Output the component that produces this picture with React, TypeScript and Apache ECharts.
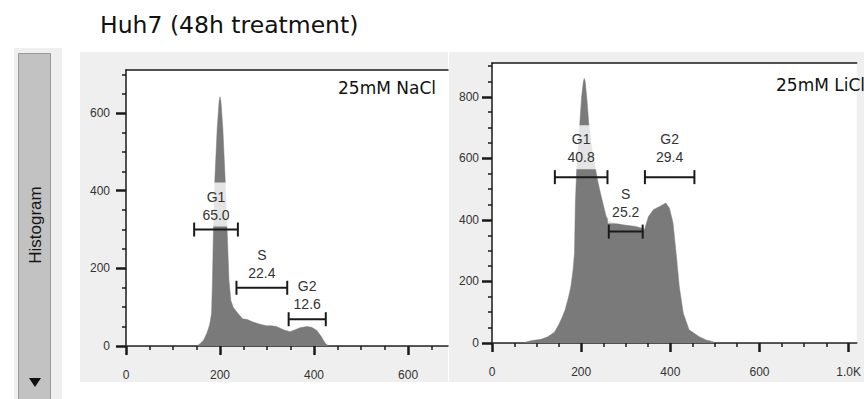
import React, { useEffect, useRef } from 'react';
import * as echarts from 'echarts';

// ---- Data ----
const chartTitle = 'Huh7 (48h treatment)';
const sidebarLabel = 'Histogram';

const naclLabel = '25mM NaCl';
const naclX = [0, 150, 157, 165, 172, 178, 182, 184, 186, 189, 194, 198, 200, 202, 206, 211, 215, 219, 223, 228, 234, 241, 248, 258, 270, 285, 299, 310, 320, 335, 349, 360, 370, 385, 395, 406, 415, 420, 425, 432, 685];
const naclCount = [0, 0, 5, 15, 33, 55, 84, 170, 300, 427, 560, 630, 642, 630, 560, 427, 300, 170, 117, 100, 90, 80, 70, 68, 62, 56, 52, 52, 50, 42, 37, 42, 47, 50, 48, 40, 25, 15, 5, 0, 0];
const naclGateNames = ['G1', 'S', 'G2'];
const naclGatePct = ['65.0', '22.4', '12.6'];
const naclGateStart = [145, 235, 346];
const naclGateEnd = [238, 343, 425];
const naclGateLevel = [300, 150, 69];
const naclXTicks = [0, 200, 400, 600];
const naclXTickLabels = ['0', '200', '400', '600'];
const naclYTicks = [0, 200, 400, 600];

const liclLabel = '25mM LiCl';
const liclX = [0, 70, 78, 90, 110, 125, 140, 150, 158, 164, 171, 177, 182, 185, 187, 190, 194, 197, 201, 205, 207, 209, 213, 217, 225, 232, 238, 245, 256, 263, 275, 293, 310, 322, 337, 342, 351, 362, 376, 390, 398, 406, 413, 420, 429, 442, 464, 480, 494, 502, 820];
const liclCount = [0, 0, 4, 8, 12, 20, 35, 60, 85, 108, 145, 184, 240, 292, 455, 566, 650, 714, 800, 850, 860, 850, 790, 714, 620, 566, 520, 476, 411, 395, 390, 384, 381, 379, 373, 368, 411, 433, 444, 455, 438, 390, 292, 184, 97, 43, 21, 10, 5, 0, 0];
const liclGateNames = ['G1', 'S', 'G2'];
const liclGatePct = ['40.8', '25.2', '29.4'];
const liclGateStart = [141, 262, 343];
const liclGateEnd = [259, 338, 454];
const liclGateLevel = [539, 362, 539];
const liclXTicks = [0, 200, 400, 600, 800];
const liclXTickLabels = ['0', '200', '400', '600', '1.0K'];
const liclYTicks = [0, 200, 400, 600, 800];

// ---- Styles ----
const AXIS = '#1a1a1a';
const FILL = '#7a7a7a';
const LABEL_FONT = 'Liberation Sans, Arial, sans-serif';

function bottomAxis(grid: number, max: number, ticks: number[], labels: string[]) {
  return {
    type: 'value', gridIndex: grid, position: 'bottom', min: 0, max, interval: 200,
    axisLine: { show: true, lineStyle: { color: AXIS, width: 1.5 } },
    axisTick: { show: true, inside: false, length: 9, customValues: ticks, lineStyle: { color: AXIS, width: 2.5 } },
    minorTick: { show: true, splitNumber: 4, length: 4, lineStyle: { color: AXIS, width: 1.5 } },
    axisLabel: {
      margin: 23, fontSize: 12, color: '#333', fontFamily: LABEL_FONT, customValues: ticks,
      formatter: (v: number) => labels[ticks.indexOf(v)] ?? '',
    },
    splitLine: { show: false },
  };
}
function topAxis(grid: number, max: number) {
  return {
    type: 'value', gridIndex: grid, position: 'top', min: 0, max,
    axisLine: { show: true, lineStyle: { color: AXIS, width: 1.5 } },
    axisTick: { show: false }, axisLabel: { show: false }, splitLine: { show: false },
  };
}
function leftAxis(grid: number, max: number, ticks: number[], margin: number) {
  return {
    type: 'value', gridIndex: grid, min: 0, max, interval: 200,
    axisLine: { show: true, lineStyle: { color: AXIS, width: 1.5 } },
    axisTick: { show: true, inside: false, length: 10, customValues: ticks, lineStyle: { color: AXIS, width: 2.5 } },
    minorTick: { show: true, splitNumber: 4, length: 4, lineStyle: { color: AXIS, width: 1.5 } },
    axisLabel: { margin, fontSize: 12, color: '#333', fontFamily: LABEL_FONT, customValues: ticks },
    splitLine: { show: false },
  };
}

function gateSeries(xi: number, yi: number, start: number[], end: number[], level: number[], names: string[], pct: string[], gap: number) {
  return {
    type: 'custom', xAxisIndex: xi, yAxisIndex: yi, z: 5,
    encode: { x: [0, 1], y: 2 },
    data: start.map((s, i) => [s, end[i], level[i]]),
    renderItem: (params: any, api: any) => {
      const i = params.dataIndex;
      const p1 = api.coord([api.value(0), api.value(2)]);
      const p2 = api.coord([api.value(1), api.value(2)]);
      const cx = (p1[0] + p2[0]) / 2;
      const cap = 7;
      const boxW = 36;
      const boxH = 44;
      const boxBottom = p1[1] - gap;
      const ls = { stroke: '#1a1a1a', lineWidth: 2 };
      return {
        type: 'group',
        children: [
          { type: 'rect', z2: 1, shape: { x: cx - boxW / 2, y: boxBottom - boxH, width: boxW, height: boxH },
            style: { fill: 'rgba(255,255,255,0.8)' } },
          { type: 'text', z2: 2, x: cx, y: boxBottom - 3, style: {
            text: names[i] + '\n' + pct[i], fill: '#333', fontSize: 14, fontFamily: LABEL_FONT,
            align: 'center', verticalAlign: 'bottom', lineHeight: 18,
          } },
          { type: 'line', z2: 3, shape: { x1: p1[0], y1: p1[1], x2: p2[0], y2: p2[1] }, style: ls },
          { type: 'line', z2: 3, shape: { x1: p1[0], y1: p1[1] - cap, x2: p1[0], y2: p1[1] + cap }, style: ls },
          { type: 'line', z2: 3, shape: { x1: p2[0], y1: p2[1] - cap, x2: p2[0], y2: p2[1] + cap }, style: ls },
        ],
      };
    },
  };
}

function histSeries(xi: number, yi: number, xs: number[], ys: number[]) {
  return {
    type: 'line', xAxisIndex: xi, yAxisIndex: yi, z: 2,
    data: xs.map((x, i) => [x, ys[i]]),
    showSymbol: false, symbol: 'none',
    lineStyle: { width: 0.5, color: FILL },
    areaStyle: { color: FILL, opacity: 1 },
    itemStyle: { color: FILL },
  };
}

export default function App() {
  const ref = useRef<HTMLDivElement>(null);
  useEffect(() => {
    if (!ref.current) return;
    const chart = echarts.init(ref.current, null, { renderer: 'svg' });
    const option: any = {
      animation: false,
      backgroundColor: '#ffffff',
      grid: [
        { left: 126, top: 70, width: 322, height: 276, show: true, backgroundColor: '#ffffff', borderWidth: 0 },
        { left: 492, top: 63, width: 372, height: 280, show: true, backgroundColor: '#ffffff', borderWidth: 0 },
      ],
      xAxis: [
        bottomAxis(0, 685, naclXTicks, naclXTickLabels),
        topAxis(0, 685),
        bottomAxis(1, 818, liclXTicks, liclXTickLabels),
        topAxis(1, 818),
      ],
      yAxis: [
        leftAxis(0, 711, naclYTicks, 16),
        leftAxis(1, 910, liclYTicks, 13),
      ],
      series: [
        histSeries(0, 0, naclX, naclCount),
        gateSeries(0, 0, naclGateStart, naclGateEnd, naclGateLevel, naclGateNames, naclGatePct, 3),
        histSeries(2, 1, liclX, liclCount),
        gateSeries(2, 1, liclGateStart, liclGateEnd, liclGateLevel, liclGateNames, liclGatePct, 8),
      ],
      graphic: {
        elements: [
          { type: 'rect', z: -10, shape: { x: 80, y: 52, width: 368, height: 330 }, style: { fill: '#efefef' } },
          { type: 'rect', z: -10, shape: { x: 449, y: 52, width: 415, height: 330 }, style: { fill: '#efefef' } },
          { type: 'rect', z: -10, shape: { x: 14, y: 48, width: 48, height: 360 }, style: { fill: '#efefef' } },
          { type: 'rect', z: -9, shape: { x: 18.5, y: 53.5, width: 32, height: 360 }, style: { fill: '#c2c2c2', stroke: '#9a9a9a', lineWidth: 1 } },
          { type: 'text', z: 10, x: 35, y: 225, rotation: Math.PI / 2, style: {
            text: sidebarLabel, fontSize: 17, fontFamily: LABEL_FONT, fill: '#151515', align: 'center', verticalAlign: 'middle' } },
          { type: 'polygon', z: 10, shape: { points: [[29, 378], [41, 378], [35, 387]] }, style: { fill: '#111' } },
          { type: 'text', z: 10, x: 100, y: 25, style: {
            text: chartTitle, fontSize: 23.5, fontFamily: 'DejaVu Sans', fill: '#111', verticalAlign: 'middle' } },
          { type: 'text', z: 10, x: 338, y: 88, style: {
            text: naclLabel, fontSize: 17, fontFamily: 'DejaVu Sans', fill: '#111', verticalAlign: 'middle' } },
          { type: 'text', z: 10, x: 776, y: 85, style: {
            text: liclLabel, fontSize: 17, fontFamily: 'DejaVu Sans', fill: '#111', verticalAlign: 'middle' } },
        ],
      },
    };
    chart.setOption(option);
    return () => chart.dispose();
  }, []);
  return <div ref={ref} style={{ position: 'fixed', left: 0, top: 0, width: 864, height: 399, background: '#fff' }} />;
}
